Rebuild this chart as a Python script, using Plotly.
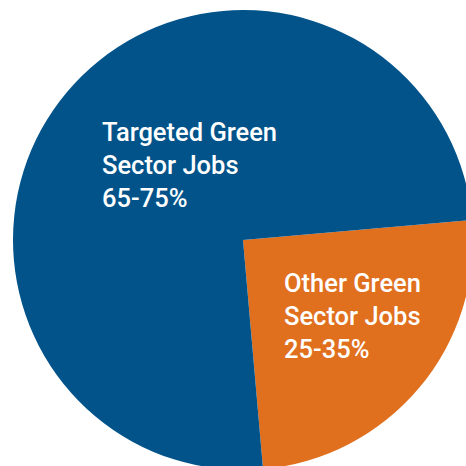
import plotly.graph_objects as go

labels = ["Other Green Sector Jobs", "Targeted Green Sector Jobs"]
values = [25, 75]
ranges = ["25-35%", "65-75%"]
colors = ["#e06f1e", "#02538a"]

W, H = 490, 490
L, T, R, B = 13, 10, 17, 20
pw, ph = W - L - R, H - T - B

def px(x):
    return (x - L) / pw

def py(y):
    return 1 - (y - T) / ph

fig = go.Figure(go.Pie(
    labels=labels, values=values, sort=False, direction="clockwise",
    rotation=85, textinfo="none", hoverinfo="label",
    marker=dict(colors=colors, line=dict(width=0)),
    showlegend=False,
))

font = dict(family="Roboto", size=25.5, color="white", weight=500)
pos = [(282, 266), (100, 115)]
for lab, rng, (x, y) in zip(labels, ranges, pos):
    words = lab.split(" ")
    txt = " ".join(words[:-2]) + "<br>" + " ".join(words[-2:]) + "<br>" + rng
    fig.add_annotation(x=px(x), y=py(y), xref="paper", yref="paper",
                       xanchor="left", yanchor="top", align="left",
                       text=txt, showarrow=False, font=font)

fig.update_layout(width=W, height=H, margin=dict(l=L, r=R, t=T, b=B),
                  paper_bgcolor="white", plot_bgcolor="white")

fig.write_html("out.html", config={"displayModeBar": False},
               post_script="document.body.style.margin='0';document.body.style.overflow='hidden';")
